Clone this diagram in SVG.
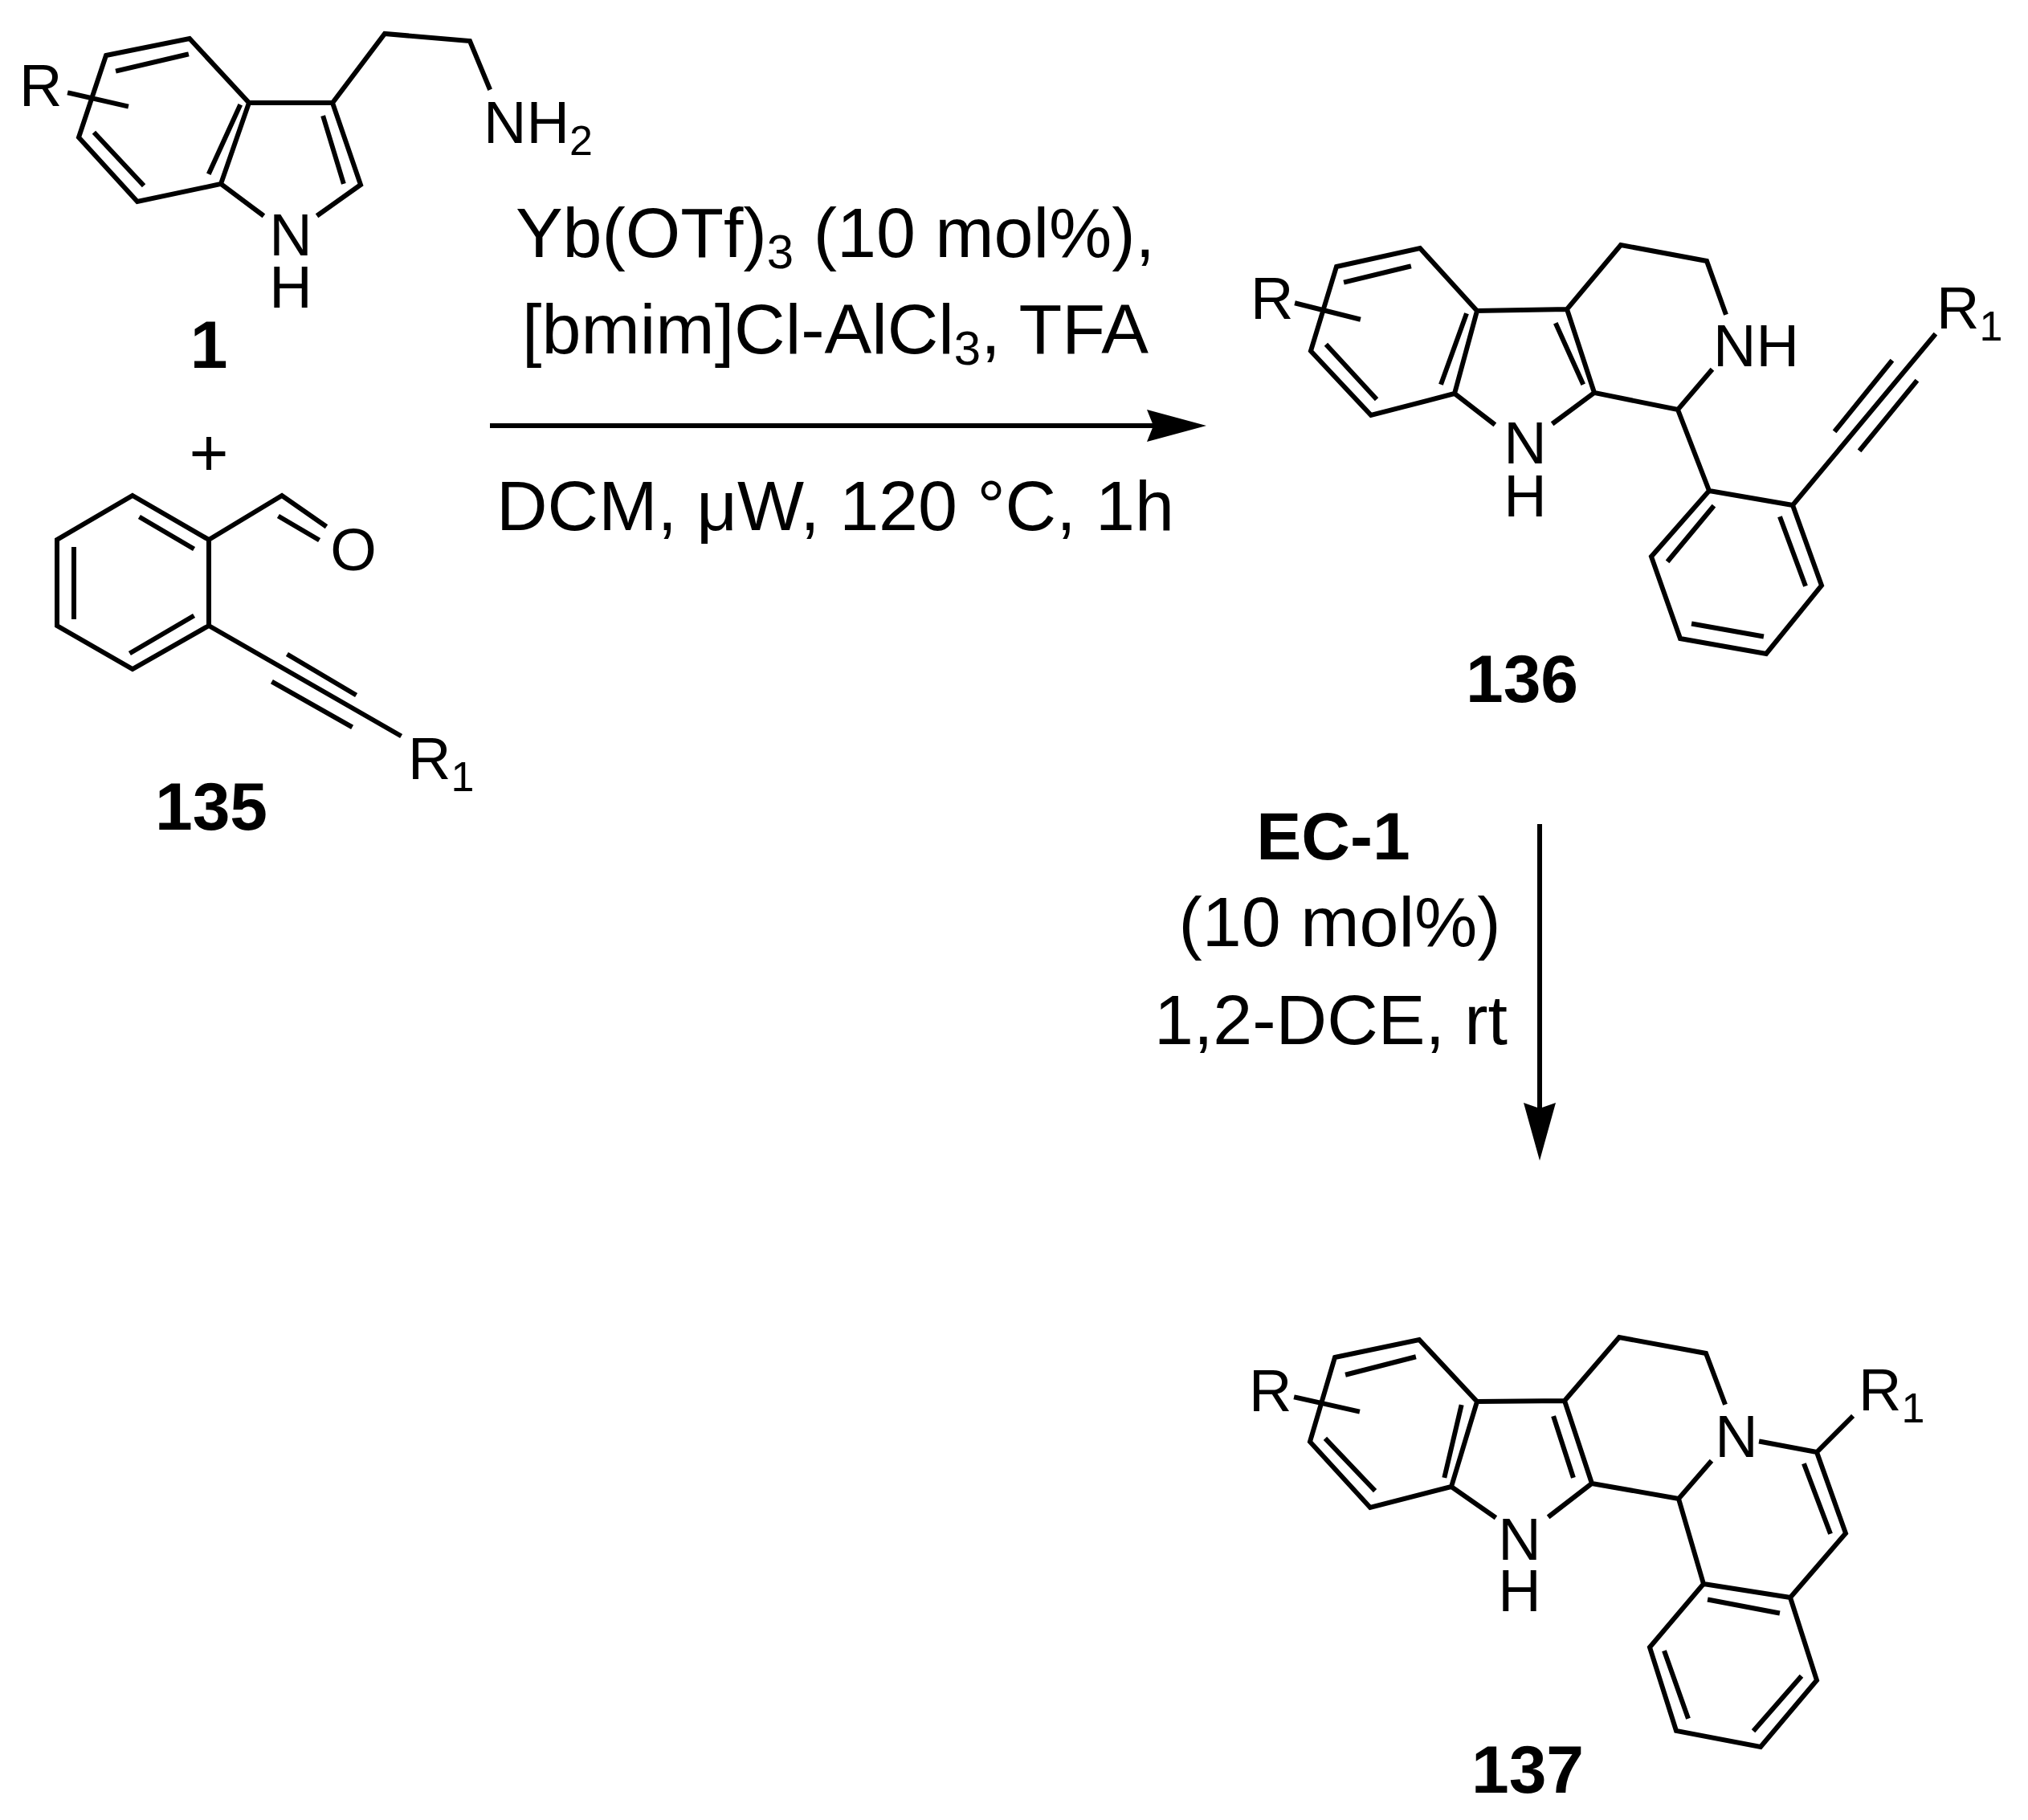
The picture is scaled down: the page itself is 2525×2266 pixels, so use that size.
<svg xmlns="http://www.w3.org/2000/svg" width="2525" height="2266" viewBox="0 0 2525 2266">
<defs>
<style>
.b{stroke:#000;stroke-width:6;fill:none;stroke-linecap:square;stroke-linejoin:miter}
.ar{stroke:#000;stroke-width:6;fill:none}
text{font-family:"Liberation Sans",Arial,sans-serif;fill:#000}
.a{font-size:74px}
.c{font-size:88px}
.lb{font-size:84px;font-weight:bold;text-anchor:middle}
.m{text-anchor:middle}
</style>
</defs>
<rect width="2525" height="2266" fill="#fff"/>

<g id="compound-1">
<path class="b" d="M132,69 L236,48 L310,128 L275,229 L171,251 L98,171 Z M310,128 L414,128 L449,230 L397,267 M275,229 L326,267 M147,88 L232,68 M119,167 L177,229 M261,214 L298,133 M403,147 L427,226 M414,128 L479,42 L585,51 L609,109 M87,116 L157,132"/>
<text class="a" x="24" y="132">R</text>
<text class="a m" x="362" y="318">N</text>
<text class="a m" x="362" y="383">H</text>
<text class="a" x="602" y="178">NH<tspan font-size="52" dy="15">2</tspan></text>
<text class="lb" x="260" y="458">1</text>
</g>

<text class="lb" x="260" y="592" style="font-weight:normal">+</text>

<g id="compound-135">
<path class="b" d="M165,617 L260,672 L260,779 L165,833 L71,779 L71,672 Z M176,645 L239,682 M92,684 L92,768 M164,812 L239,768 M260,672 L351,617 L404,654 M349,644 L395,671 M260,779 L497,915 M360,816 L441,864 M341,850 L436,904"/>
<text class="a m" x="440" y="710">O</text>
<text class="a" x="508" y="970">R<tspan font-size="52" dy="15">1</tspan></text>
<text class="lb" x="263" y="1033">135</text>
</g>

<g id="connectors">
<line class="ar" x1="610" y1="530" x2="1440" y2="530"/>
<path d="M1502,530 L1428,510 L1436,530 L1428,550 Z" fill="#000"/>
<line class="ar" x1="1917" y1="1026" x2="1917" y2="1385"/>
<path d="M1917,1445 L1897,1373 L1917,1380 L1937,1373 Z" fill="#000"/>
</g>

<g id="conditions-1">
<text class="c m" x="1040" y="320">Yb(OTf)<tspan font-size="60" dy="14">3</tspan><tspan dy="-14"> (10 mol%),</tspan></text>
<text class="c m" x="1040" y="440">[bmim]Cl-AlCl<tspan font-size="60" dy="14">3</tspan><tspan dy="-14">, TFA</tspan></text>
<text class="c m" x="1040" y="660">DCM, μW, 120 °C, 1h</text>
</g>

<g id="conditions-2">
<text class="lb" x="1660" y="1070">EC-1</text>
<text class="c m" x="1668" y="1178">(10 mol%)</text>
<text class="c m" x="1657" y="1300">1,2-DCE, rt</text>
</g>

<g id="compound-136">
<path class="b" d="M1664,332 L1768,309 L1839,387 L1811,490 L1707,517 L1632,437 Z M1676,351 L1754,332 M1653,431 L1712,495 M1795,476 L1825,393 M1839,387 L1951,385 L1985,489 L1935,526 M1811,490 L1859,527 M1938,405 L1970,476 M1951,385 L2018,305 L2125,325 L2148,389 M1985,489 L2089,510 L2130,462 M2089,510 L2128,611 M2128,611 L2232,629 L2268,729 L2199,814 L2092,795 L2056,693 Z M2217,646 L2247,727 M2109,777 L2193,792 M2078,697 L2132,632 M2232,629 L2408,418 M2286,535 L2354,451 M2317,559 L2385,476 M1615,378 L1691,397"/>
<text class="a" x="1557" y="397">R</text>
<text class="a m" x="1899" y="577">N</text>
<text class="a m" x="1899" y="643">H</text>
<text class="a" x="2133" y="456">NH</text>
<text class="a" x="2411" y="409">R<tspan font-size="52" dy="15">1</tspan></text>
<text class="lb" x="1895" y="874">136</text>
</g>

<g id="compound-137">
<path class="b" d="M1662,1690 L1767,1668 L1839,1745 L1807,1851 L1706,1877 L1631,1795 Z M1678,1711 L1760,1690 M1652,1793 L1710,1854 M1799,1837 L1819,1752 M1839,1745 L1948,1744 L1982,1847 L1930,1887 M1807,1851 L1860,1888 M1935,1766 L1958,1837 M1948,1744 L2016,1665 L2124,1685 L2147,1746 M1982,1847 L2090,1866 L2129,1821 M2193,1795 L2262,1808 L2305,1765 M2262,1808 L2298,1909 L2229,1989 M2247,1825 L2278,1907 M2090,1866 L2121,1972 M2121,1972 L2229,1989 L2262,2092 L2192,2175 L2087,2155 L2054,2051 Z M2129,1992 L2213,2008 M2241,2089 L2185,2153 M2073,2058 L2101,2137 M1614,1740 L1690,1757"/>
<text class="a" x="1555" y="1757">R</text>
<text class="a m" x="1892" y="1942">N</text>
<text class="a m" x="1892" y="2006">H</text>
<text class="a m" x="2162" y="1814">N</text>
<text class="a" x="2314" y="1756">R<tspan font-size="52" dy="15">1</tspan></text>
<text class="lb" x="1902" y="2232">137</text>
</g>
</svg>
